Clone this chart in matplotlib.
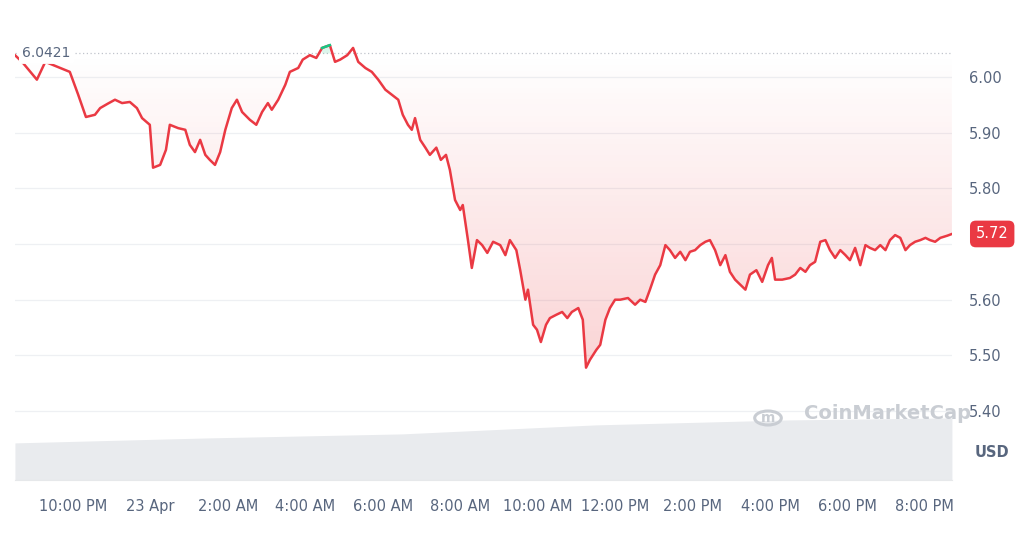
import numpy as np
import matplotlib
matplotlib.use("Agg")
import matplotlib.pyplot as plt
from matplotlib.patches import Polygon, Circle
from matplotlib.colors import LinearSegmentedColormap

# minutes since 22 Apr 20:30
minutes = [0,11,34,47,70,85,98,110,124,132,144,155,166,178,189,197,209,214,225,234,240,253,264,271,279,287,295,302,310,318,326,336,344,352,364,374,383,392,398,408,419,426,439,446,457,467,476,488,496,504,515,524,532,543,553,563,574,584,594,601,609,615,620,628,636,643,653,660,668,674,682,690,694,702,708,716,724,732,741,752,760,767,777,783,791,795,803,809,815,823,829,839,848,856,863,873,880,885,891,901,907,915,922,930,938,950,961,969,977,984,992,1000,1008,1015,1023,1031,1039,1046,1054,1062,1070,1077,1085,1093,1101,1108,1116,1124,1132,1139,1149,1158,1167,1173,1178,1189,1201,1209,1217,1225,1232,1240,1248,1256,1263,1271,1279,1287,1294,1302,1310,1318,1325,1333,1341,1349,1356,1364,1372,1380,1387,1395,1403,1411,1418,1426,1434,1445,1452]
prices = [6.039,6.027,5.995,6.027,6.016,6.009,5.968,5.928,5.932,5.944,5.952,5.959,5.953,5.955,5.944,5.926,5.914,5.837,5.842,5.869,5.914,5.908,5.905,5.878,5.865,5.887,5.860,5.851,5.842,5.865,5.905,5.944,5.959,5.937,5.923,5.914,5.937,5.953,5.941,5.959,5.986,6.009,6.016,6.031,6.039,6.034,6.052,6.057,6.027,6.031,6.039,6.052,6.027,6.016,6.009,5.995,5.977,5.968,5.959,5.932,5.914,5.905,5.926,5.887,5.873,5.860,5.873,5.851,5.860,5.833,5.779,5.761,5.770,5.707,5.657,5.707,5.698,5.684,5.704,5.698,5.680,5.707,5.689,5.653,5.600,5.618,5.555,5.546,5.524,5.555,5.567,5.573,5.578,5.567,5.578,5.585,5.564,5.478,5.492,5.510,5.519,5.564,5.585,5.600,5.600,5.603,5.591,5.600,5.596,5.618,5.645,5.662,5.698,5.689,5.675,5.686,5.671,5.686,5.689,5.698,5.704,5.707,5.689,5.662,5.680,5.650,5.636,5.627,5.618,5.645,5.653,5.632,5.662,5.675,5.636,5.636,5.639,5.645,5.657,5.650,5.662,5.668,5.704,5.707,5.689,5.675,5.689,5.680,5.671,5.693,5.662,5.698,5.693,5.689,5.698,5.689,5.707,5.716,5.711,5.689,5.698,5.704,5.707,5.711,5.707,5.704,5.711,5.715,5.718,5.720]
vol_minutes = [0, 300, 600, 900, 1200, 1452]
volume = [37, 42, 46, 55, 60, 62]
baseline = 6.0421
yticks = [5.40, 5.50, 5.60, 5.70, 5.80, 5.90, 6.00]
xtick_min = [90, 210, 330, 450, 570, 690, 810, 930, 1050, 1170, 1290, 1410]
xtick_labels = ["10:00 PM","23 Apr","2:00 AM","4:00 AM","6:00 AM","8:00 AM","10:00 AM","12:00 PM","2:00 PM","4:00 PM","6:00 PM","8:00 PM"]

n = min(len(minutes), len(prices))
t = np.array(minutes[:n], float); p = np.array(prices[:n])

fig = plt.figure(figsize=(10.24, 5.38), dpi=100)
ax = fig.add_axes([0.0146, 0.108, 0.915, 0.855])
ax2 = ax.twinx()
ax2.fill_between(vol_minutes, 0, volume, color="#e9ebee", lw=0, zorder=0)
ax2.set_ylim(0, 460); ax2.axis("off")
ax.set_zorder(ax2.get_zorder()+1); ax.patch.set_visible(False)

ymin, ymax = 5.2765, 6.1023
gc = "#eef0f3"
for y in yticks:
    ax.axhline(y, color=gc, lw=0.9, zorder=0)
ax.axhline(baseline, color="#c0c4cc", lw=0.9, ls=(0, (1, 2)), zorder=1)

pb = np.minimum(p, baseline)
poly = Polygon(np.column_stack([np.r_[t, t[::-1]], np.r_[pb, np.full(n, baseline)]]), closed=True, transform=ax.transData, fc="none", ec="none")
ax.add_patch(poly)
cmap = LinearSegmentedColormap.from_list("g", [(0.92,0.22,0.24,0.22),(0.92,0.22,0.24,0.0)])
grad = np.linspace(0, 1, 256).reshape(-1, 1)
im = ax.imshow(grad, extent=[t[0], t[-1], 5.47, baseline], origin="lower", aspect="auto", cmap=cmap, zorder=1)
im.set_clip_path(poly)
ax.set_xlim(t[0], t[-1]); ax.set_ylim(ymin, ymax)

ax.plot(t, p, color="#ea3943", lw=1.8, zorder=3)
pg = np.where(p > baseline, p, np.nan)
ax.fill_between(t, baseline, p, where=p > baseline, color="#16c784", alpha=0.15, lw=0, zorder=2)
ax.plot(t, pg, color="#16c784", lw=1.8, zorder=4)

for s in ["top", "left", "right"]:
    ax.spines[s].set_visible(False)
ax.spines["bottom"].set_color("#e6e8ea")
ax.tick_params(length=0)
ax.set_xticks(xtick_min); ax.set_xticklabels(xtick_labels, color="#58667e", fontsize=10.5)
ax.tick_params(axis="x", pad=14)
ax.yaxis.tick_right()
ax.set_yticks(yticks)
ax.set_yticklabels(["" if abs(v - 5.70) < 1e-9 else f"{v:.2f}" for v in yticks], color="#58667e", fontsize=10.5)
ax.tick_params(axis="y", pad=12)
ax.text(1.043, 0.05, "USD", transform=ax.transAxes, color="#58667e", fontsize=10.5, fontweight="bold", ha="center")
ax.text(1.043, p[-1], f"{p[-1]:.2f}", transform=ax.get_yaxis_transform(), color="white", fontsize=10.5,
        ha="center", va="center", bbox=dict(boxstyle="round,pad=0.4", fc="#ea3943", ec="none"), zorder=6)
ax.text(0.008, baseline, f"{baseline:.4f}", transform=ax.get_yaxis_transform(), color="#58667e", fontsize=10,
        ha="left", va="center", bbox=dict(boxstyle="round,pad=0.25", fc="white", ec="none"), zorder=6)
ax.text(0.842, 5.395, "CoinMarketCap", transform=ax.get_yaxis_transform(), color="#c9cdd3", fontsize=14,
        fontweight="bold", ha="left", va="center", zorder=5)
fig.patches.append(Circle((768/1024, 1 - 418/538), 0.013, transform=fig.transFigure, fc="none", ec="#c9cdd3", lw=2.2))
fig.text(768/1024, 1 - 418/538, "m", color="#c9cdd3", fontsize=10, fontweight="bold", ha="center", va="center")
fig.savefig("out.png", dpi=100)
